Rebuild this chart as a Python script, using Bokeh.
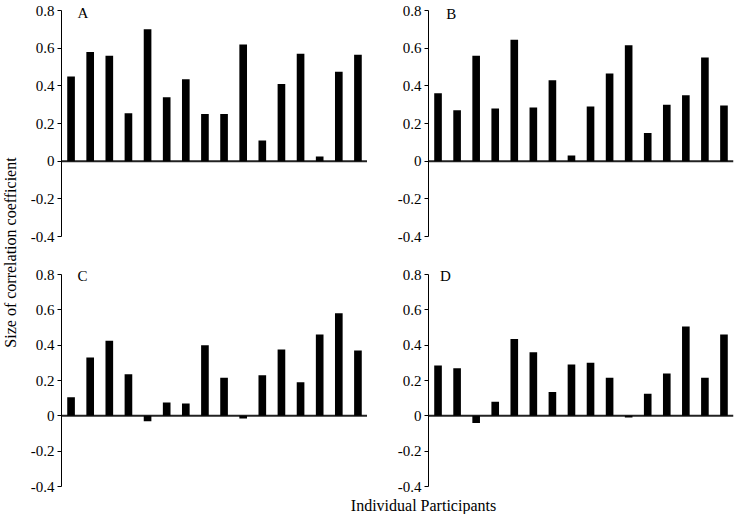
import math
from bokeh.plotting import figure
from bokeh.models import Range1d, FixedTicker, Label
from bokeh.layouts import row, column
from bokeh.embed import file_html
from bokeh.resources import INLINE

# ---------------- data ----------------
PARTICIPANTS = list(range(1, 17))
PANEL_NAMES = ["A", "B", "C", "D"]
VALUES_A = [0.45, 0.58, 0.56, 0.255, 0.70, 0.34, 0.435, 0.25, 0.25, 0.62, 0.11, 0.41, 0.57, 0.025, 0.475, 0.565]
VALUES_B = [0.36, 0.27, 0.56, 0.28, 0.645, 0.285, 0.43, 0.03, 0.29, 0.465, 0.615, 0.15, 0.30, 0.35, 0.55, 0.295]
VALUES_C = [0.105, 0.33, 0.425, 0.235, -0.03, 0.075, 0.07, 0.40, 0.215, -0.015, 0.23, 0.375, 0.19, 0.46, 0.58, 0.37]
VALUES_D = [0.285, 0.27, -0.04, 0.08, 0.435, 0.36, 0.135, 0.29, 0.30, 0.215, -0.01, 0.125, 0.24, 0.505, 0.215, 0.46]
Y_TICKS = [-0.4, -0.2, 0.0, 0.2, 0.4, 0.6, 0.8]
Y_TICK_LABELS = ["-0.4", "-0.2", "0", "0.2", "0.4", "0.6", "0.8"]
Y_MIN, Y_MAX = -0.4, 0.8
Y_TITLE = "Size of correlation coefficient"
X_TITLE = "Individual Participants"

FONT = "Liberation Serif"
X_LO, X_HI = 0.5, 16.5   # x-range of every panel


def panel(name, vals, width, height, bl, br, bt, bb, ppu, letter_x, letter_y):
    y_top = Y_MAX + 7 / ppu   # frame reaches 7px above the 0.8 tick
    p = figure(width=width, height=height,
               x_range=Range1d(X_LO, X_HI), y_range=Range1d(Y_MIN, y_top),
               output_backend="svg", toolbar_location=None,
               x_axis_location=None,
               min_border_left=bl, min_border_right=br,
               min_border_top=bt, min_border_bottom=bb)
    p.outline_line_color = None
    p.xgrid.grid_line_color = None
    p.ygrid.grid_line_color = None
    p.background_fill_color = "white"
    p.border_fill_color = "white"
    ax = p.yaxis[0]
    ax.bounds = (Y_MIN, Y_MAX)
    ax.ticker = FixedTicker(ticks=Y_TICKS)
    ax.major_label_overrides = dict(zip(Y_TICKS, Y_TICK_LABELS))
    ax.minor_tick_line_color = None
    ax.major_tick_in = 0
    ax.major_tick_out = 4
    ax.major_label_standoff = 3
    ax.axis_line_color = "black"
    ax.major_tick_line_color = "black"
    ax.major_label_text_font = FONT
    ax.major_label_text_font_size = "15px"
    ax.major_label_text_color = "black"

    # zero line across the whole panel (a 2px-thick filled strip)
    p.hbar(y=[0], left=[X_LO], right=[X_HI], height=2.0 / ppu,
           fill_color="#222222", line_color=None)
    p.vbar(x=PARTICIPANTS, top=vals, bottom=0, width=0.4,
           fill_color="black", line_color=None)
    p.add_layout(Label(x=letter_x, y=letter_y, text=name, text_font=FONT,
                       text_font_size="15px", text_color="black",
                       text_align="center", text_baseline="middle"))
    return p


# top row: 0.8 at y=10, -0.4 at y=236 -> 188.33 px per unit
TOP_PPU = 226 / 1.2
# bottom row: 0.8 at y=274, -0.4 at y=486 -> 176.67 px per unit
BOT_PPU = 212 / 1.2

TOP_H = 246
BOT_H = 249
pa = panel(PANEL_NAMES[0], VALUES_A, 347, TOP_H, 41, 0, 3, 10, TOP_PPU, 1.62, 0.785)
pb = panel(PANEL_NAMES[1], VALUES_B, 367, TOP_H, 61, 1, 3, 10, TOP_PPU, 1.7, 0.779)
pc = panel(PANEL_NAMES[2], VALUES_C, 347, BOT_H, 41, 0, 21, 9, BOT_PPU, 1.6, 0.789)
pd = panel(PANEL_NAMES[3], VALUES_D, 367, BOT_H, 61, 1, 21, 9, BOT_PPU, 1.39, 0.79)

GRID_H = TOP_H + BOT_H

ylab = figure(width=20, height=GRID_H, x_range=Range1d(0, 20), y_range=Range1d(0, GRID_H),
              output_backend="svg", toolbar_location=None,
              x_axis_location=None, y_axis_location=None, min_border=0)
ylab.outline_line_color = None
ylab.xgrid.grid_line_color = None
ylab.ygrid.grid_line_color = None
ylab.add_layout(Label(x=10, y=GRID_H - 252, text=Y_TITLE, angle=math.pi / 2,
                      text_font=FONT, text_font_size="16px", text_color="black",
                      text_align="center", text_baseline="middle"))

XLAB_H = 19
xlab = figure(width=734, height=XLAB_H, x_range=Range1d(0, 734), y_range=Range1d(0, XLAB_H),
              output_backend="svg", toolbar_location=None,
              x_axis_location=None, y_axis_location=None, min_border=0)
xlab.outline_line_color = None
xlab.xgrid.grid_line_color = None
xlab.ygrid.grid_line_color = None
xlab.add_layout(Label(x=423, y=XLAB_H / 2, text=X_TITLE,
                      text_font=FONT, text_font_size="16px", text_color="black",
                      text_align="center", text_baseline="middle"))

layout = column(row(ylab, column(row(pa, pb), row(pc, pd))), xlab)

open("out.html", "w").write(file_html(layout, INLINE))
